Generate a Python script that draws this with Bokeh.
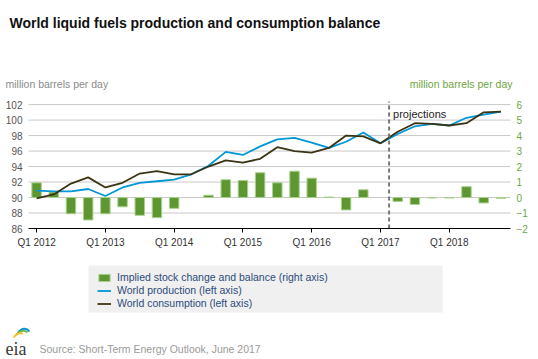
from bokeh.plotting import figure
from bokeh.models import (Range1d, LinearAxis, FixedTicker, Label, Legend, LegendItem,
                          ColumnDataSource, BoxAnnotation)
from bokeh.embed import file_html
from bokeh.resources import INLINE

years = [2012, 2013, 2014, 2015, 2016, 2017, 2018]
quarters = [f"Q{q} {y}" for y in years for q in (1, 2, 3, 4)]

production = [90.9, 90.8, 90.8, 91.1, 90.2, 91.3, 91.9, 92.1, 92.3, 93.0, 94.1, 95.9, 95.5, 96.6,
              97.5, 97.7, 97.1, 96.4, 97.2, 98.4, 97.0, 98.2, 99.2, 99.5, 99.3, 100.3, 100.7, 101.1]
consumption = [89.9, 90.4, 91.8, 92.6, 91.3, 91.9, 93.1, 93.4, 93.0, 93.0, 94.0, 94.8, 94.5, 95.0,
               96.5, 96.0, 95.8, 96.4, 98.0, 97.9, 97.0, 98.5, 99.6, 99.5, 99.3, 99.6, 101.0, 101.1]
balance = [0.95, 0.35, -1.05, -1.45, -1.05, -0.6, -1.15, -1.3, -0.7, 0.0, 0.15, 1.15, 1.1, 1.6,
           0.95, 1.7, 1.25, 0.03, -0.8, 0.5, 0.0, -0.25, -0.45, -0.03, -0.03, 0.7, -0.35, -0.05]

left_ticks = [86, 88, 90, 92, 94, 96, 98, 100, 102]
right_ticks = [-2, -1, 0, 1, 2, 3, 4, 5, 6]
projection_start = 20.5

title_text = "World liquid fuels production and consumption balance"
unit_text = "million barrels per day"
legend_labels = ["Implied stock change and balance (right axis)",
                 "World production (left axis)", "World consumption (left axis)"]
source_text = "Source: Short-Term Energy Outlook, June 2017"

FONT = "Liberation Sans"
GREEN = "#5e9732"
BAR_EDGE = "#a9d18e"
BLUE = "#0096d7"
DARK = "#3b3414"

# ---- layout geometry (pixels, canvas origin top-left) ----
CW, CH = 538, 359
FL, FR, FT, FB = 28, 510, 101, 228   # chart area inside canvas
X0, X1 = -0.47, 27.56        # x extent of chart area (quarter index)
Y0, Y1 = 86, 102.4           # left axis extent
R0, R1 = -2, 6.2             # right axis extent


def ext(lo, hi, p_lo, p_hi, total):
    s = (hi - lo) / (p_hi - p_lo)
    return Range1d(lo - p_lo * s, hi + (total - p_hi) * s)


x_rng = ext(X0, X1, FL, FR, CW)
y_rng = ext(Y0, Y1, CH - FB, CH - FT, CH)
r_rng = ext(R0, R1, CH - FB, CH - FT, CH)

xs = list(range(len(quarters)))
src = ColumnDataSource(dict(
    x=xs, prod=production, cons=consumption, bal=balance,
    la=[0.0 if b == 0 else 1.0 for b in balance],
))

p = figure(frame_width=CW, frame_height=CH, output_backend="svg", toolbar_location=None,
           x_range=x_rng, y_range=y_rng, min_border=0)
p.outline_line_color = None
p.extra_y_ranges = {"right": r_rng, "py": Range1d(CH, 0)}
p.extra_x_ranges = {"px": Range1d(0, CW)}
p.grid.grid_line_color = None

# x axis
xa = p.xaxis[0]
q1 = [i for i in xs if quarters[i].startswith("Q1")]
xa.fixed_location = Y0
xa.bounds = (X0, X1)
xa.ticker = FixedTicker(ticks=q1)
xa.major_label_overrides = {i: quarters[i] for i in q1}
xa.axis_line_color = "black"
xa.major_tick_line_color = "black"
xa.major_tick_out = 4
xa.major_tick_in = 0
xa.minor_tick_line_color = None
xa.major_label_text_font = FONT
xa.major_label_text_font_size = "10px"
xa.major_label_text_color = "#333333"
xa.major_label_standoff = 4

# left axis
ya = p.yaxis[0]
ya.fixed_location = X0
ya.ticker = FixedTicker(ticks=left_ticks)
ya.axis_line_color = None
ya.major_tick_line_color = None
ya.major_tick_out = 0
ya.major_tick_in = 0
ya.minor_tick_line_color = None
ya.major_label_text_font = FONT
ya.major_label_text_font_size = "10px"
ya.major_label_text_color = "#555555"
ya.major_label_standoff = 6

# right axis
ra = LinearAxis(y_range_name="right", ticker=FixedTicker(ticks=right_ticks), fixed_location=X1)
ra.axis_line_color = None
ra.major_tick_line_color = None
ra.major_tick_out = 0
ra.major_tick_in = 0
ra.minor_tick_line_color = None
ra.major_label_text_font = FONT
ra.major_label_text_font_size = "10px"
ra.major_label_text_color = "#6ea542"
ra.major_label_standoff = 6
p.add_layout(ra, "right")

# horizontal grid at the left-axis ticks
grid_y = [t for t in left_ticks if t > Y0]
p.segment(x0=X0, x1=X1, y0=grid_y, y1=grid_y, line_color="#c8c8c8", line_width=1)

bars = p.vbar(x="x", top="bal", bottom=0, width=0.55, source=src, y_range_name="right",
              fill_color=GREEN, line_color=BAR_EDGE, line_width=1, line_alpha="la")
lprod = p.line("x", "prod", source=src, line_color=BLUE, line_width=1.8)
lcons = p.line("x", "cons", source=src, line_color=DARK, line_width=1.8)

# projections divider
p.segment(x0=[projection_start], x1=[projection_start], y0=[Y0], y1=[Y1],
          line_color="#777777", line_dash="4 3", line_width=2)
p.add_layout(Label(x=projection_start + 0.23, y=100.85, text="projections", text_font=FONT,
                   text_font_size="11px", text_color="#222222", text_baseline="middle"))


def lab(x, y, text, **kw):
    p.add_layout(Label(x=x, y=CH - y, x_units="screen", y_units="screen", text=text,
                       text_font=kw.pop("text_font", FONT), **kw))


lab(9, 22, title_text, text_font_size="14px", text_font_style="bold",
    text_color="#111111", text_baseline="alphabetic")
lab(5, 83, unit_text, text_font_size="10.5px", text_color="#8a8a8a", text_baseline="middle")
lab(512, 83, unit_text, text_font_size="10.5px", text_color="#6ea542",
    text_baseline="middle", text_align="right")
lab(39, 348, source_text, text_font_size="10.5px", text_color="#9a9a9a", text_baseline="middle")
lab(5, 348, "eia", text_font="Liberation Serif", text_font_size="18px",
    text_color="#3a3a3a", text_baseline="alphabetic")

# eia logo swooshes
p.bezier(x0=[17, 15, 13], y0=[333, 335, 337], x1=[29, 27, 22], y1=[331, 332, 333],
         cx0=[21, 19, 16], cy0=[327, 330, 333], cx1=[26, 24, 19], cy1=[327, 329, 332],
         line_color=[BLUE, "#7ab648", "#f2c230"], line_width=2,
         x_range_name="px", y_range_name="py")

# legend box and legend
p.add_layout(BoxAnnotation(left=88, right=442, top=CH - 265, bottom=CH - 312,
                           left_units="screen", right_units="screen",
                           top_units="screen", bottom_units="screen",
                           fill_color="#f0f0f0", fill_alpha=1, line_alpha=0))

legend = Legend(items=[LegendItem(label=legend_labels[0], renderers=[bars], index=0),
                       LegendItem(label=legend_labels[1], renderers=[lprod]),
                       LegendItem(label=legend_labels[2], renderers=[lcons])],
                location=(93, CH - 313.5))
legend.background_fill_alpha = 0
legend.border_line_alpha = 0
legend.margin = 0
legend.padding = 4
legend.spacing = 0
legend.glyph_width = 14
legend.glyph_height = 9
legend.label_height = 13
legend.label_standoff = 6
legend.label_text_font = FONT
legend.label_text_font_size = "10.5px"
legend.label_text_color = "#2d4b7a"
legend.label_text_baseline = "middle"
p.add_layout(legend, "center")

open("out.html", "w").write(file_html(p, INLINE))
